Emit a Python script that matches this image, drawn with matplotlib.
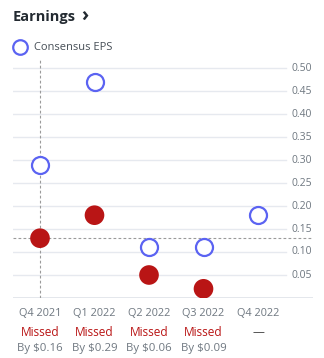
import matplotlib.pyplot as plt

quarters = ['Q4 2021', 'Q1 2022', 'Q2 2022', 'Q3 2022', 'Q4 2022']
consensus = [0.29, 0.47, 0.11, 0.11, 0.18]
actual = [0.13, 0.18, 0.05, 0.02]
status = ['Missed', 'Missed', 'Missed', 'Missed', '—']
diff = ['By $0.16', 'By $0.29', 'By $0.06', 'By $0.09', '']
yticks = [0.05, 0.10, 0.15, 0.20, 0.25, 0.30, 0.35, 0.40, 0.45, 0.50]

blue = '#5b63f2'
red = '#b91515'
gray = '#6e7780'

plt.rcParams['font.family'] = ['Open Sans', 'DejaVu Sans']

W, H = 324, 358
fig = plt.figure(figsize=(W / 100, H / 100), dpi=100)
ax = fig.add_axes([13 / W, (H - 298) / H, 300 / W, 240 / H])

x = list(range(len(quarters)))
xr = (286 - 40) / 54.5
ax.set_xlim(-27 / 54.5, 273 / 54.5)
ax.set_ylim(0, 0.5 + 10 / 460)

# grid lines + right side tick labels
for v in yticks:
    ax.plot([-0.5, xr], [v, v], color='#e6e9ef', lw=1, zorder=1)
    ax.text(4.61, v, f'{v:.2f}', fontsize=7.5, color=gray, va='center', ha='left')
ax.axhline(0, color='#e2e5ea', lw=1.3, zorder=1)

# crosshair on first quarter
ax.axvline(0, color='#9a9a9a', lw=0.8, ls=(0, (2.5, 2)), zorder=1)
ax.axhline(actual[0], color='#9a9a9a', lw=0.8, ls=(0, (2.5, 2)), zorder=1)

ax.scatter(x, consensus, s=150, facecolors='white', edgecolors=blue, linewidths=1.6, zorder=3)
ax.scatter(x[:len(actual)], actual, s=200, color=red, edgecolors='none', zorder=3)

for i, q in enumerate(quarters):
    ax.text(i, -15 / 460, q, fontsize=7.8, color=gray, ha='center', va='center', clip_on=False)
    col = red if status[i] == 'Missed' else '#444444'
    ax.text(i, -35 / 460, status[i], fontsize=8.6, color=col, ha='center', va='center', clip_on=False)
    ax.text(i, -50 / 460, diff[i], fontsize=8.2, color=gray, ha='center', va='center', clip_on=False)

ax.axis('off')

# header + legend
lx = fig.add_axes([0, 0, 1, 1], facecolor='none')
lx.set_xlim(0, W)
lx.set_ylim(H, 0)
lx.axis('off')
lx.text(13, 17, 'Earnings', fontsize=10.5, fontweight='bold', color='#232a31', va='center')
lx.text(81, 17, '›', fontsize=14, fontweight='bold', color='#232a31', va='center')
lx.scatter([20], [47], s=110, facecolors='white', edgecolors=blue, linewidths=1.6)
lx.text(34, 47, 'Consensus EPS', fontsize=8, color='#464e56', va='center')

fig.savefig('out.png', dpi=100)
